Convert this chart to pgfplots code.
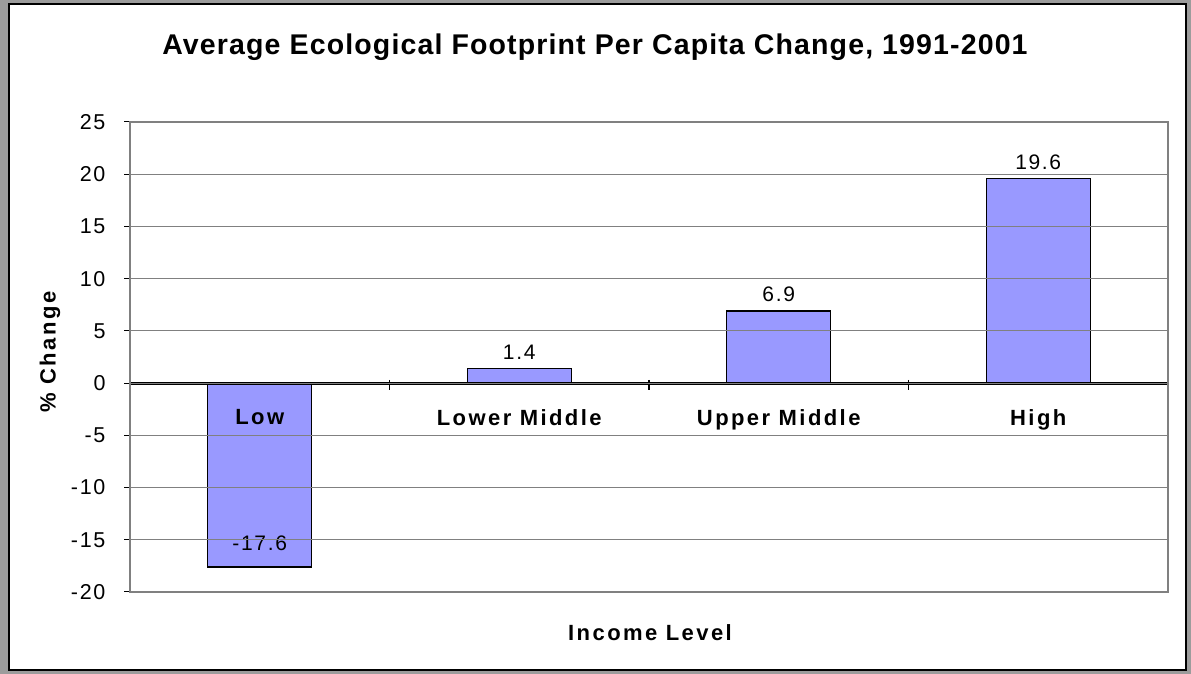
\documentclass[border=0pt]{standalone}
\usepackage{fontspec}
\setmainfont{Liberation Sans}[LetterSpace=8]
\newfontfamily\titlefont{Liberation Sans}[LetterSpace=4]
\newfontfamily\labelfont{Liberation Sans}[LetterSpace=11]
\usepackage{pgfplots}
\pgfplotsset{compat=1.18}
\definecolor{barblue}{HTML}{9999FF}
\definecolor{bggray}{HTML}{9C9C9C}
\definecolor{gridgray}{HTML}{808080}
\begin{document}
\begin{tikzpicture}[x=1pt,y=1pt]
\fill[bggray] (0,0) rectangle (1191,674);
\draw[black, line width=2.5pt, fill=white] (9,4) rectangle (1186,670);
\node[font=\titlefont\bfseries\fontsize{28.5}{32}\selectfont] at (595,627) {Average Ecological Footprint Per Capita Change, 1991-2001};
\node[font=\labelfont\bfseries\fontsize{22}{26}\selectfont] at (650,41) {Income Level};
\node[font=\labelfont\bfseries\fontsize{22}{26}\selectfont, rotate=90] at (50,322) {\% Change};
\begin{axis}[
  set layers=axis on top,
  at={(130pt,82pt)}, anchor=south west,
  scale only axis, width=1038pt, height=470pt,
  xmin=-0.5, xmax=3.5, ymin=-20, ymax=25,
  ytick={-20,-15,...,25},
  xtick={0,1,2,3},
  xticklabels={Low,Lower Middle,Upper Middle,High},
  x tick style={draw=none},
  xticklabel style={font=\labelfont\bfseries\fontsize{22}{26}\selectfont, yshift=192pt},
  yticklabel style={font=\fontsize{21.5}{25}\selectfont, xshift=-15pt},
  /pgf/number format/assume math mode=true,
  tick align=outside, ytick pos=left, xtick pos=bottom,
  major tick length=6pt,
  y tick style={black, line width=1pt},
  ymajorgrids, grid style={gridgray, line width=1pt},
  axis line style={gridgray, line width=1.5pt},
  ybar, bar width=0.4, bar shift=0pt,
  nodes near coords={\pgfmathprintnumber[fixed,precision=1,fixed zerofill,assume math mode=true]{\pgfplotspointmeta}},
  every node near coord/.append style={font=\fontsize{21}{25}\selectfont, text=black, yshift=5pt},
]
\addplot[fill=barblue, draw=black, line width=1.2pt] coordinates {(1,1.4) (2,6.9) (3,19.6)};
\addplot[fill=barblue, draw=black, line width=1.2pt,
  every node near coord/.append style={anchor=south, yshift=7pt}] coordinates {(0,-17.6)};
\draw[black, line width=1pt] (rel axis cs:0,0) -- (rel axis cs:0,1);
\draw[black, line width=3pt] (axis cs:-0.5,0) -- (axis cs:3.5,0);
\draw[black, line width=1.5pt] (axis cs:-0.5,0.6) -- (axis cs:-0.5,-0.7);
\draw[black, line width=1.5pt] (axis cs:0.5,0.3) -- (axis cs:0.5,-0.7);
\draw[black, line width=1.5pt] (axis cs:1.5,0.3) -- (axis cs:1.5,-0.7);
\draw[black, line width=1.5pt] (axis cs:2.5,0.3) -- (axis cs:2.5,-0.7);
\draw[black, line width=1.5pt] (axis cs:3.5,0.3) -- (axis cs:3.5,-0.7);
\end{axis}
\end{tikzpicture}
\end{document}
